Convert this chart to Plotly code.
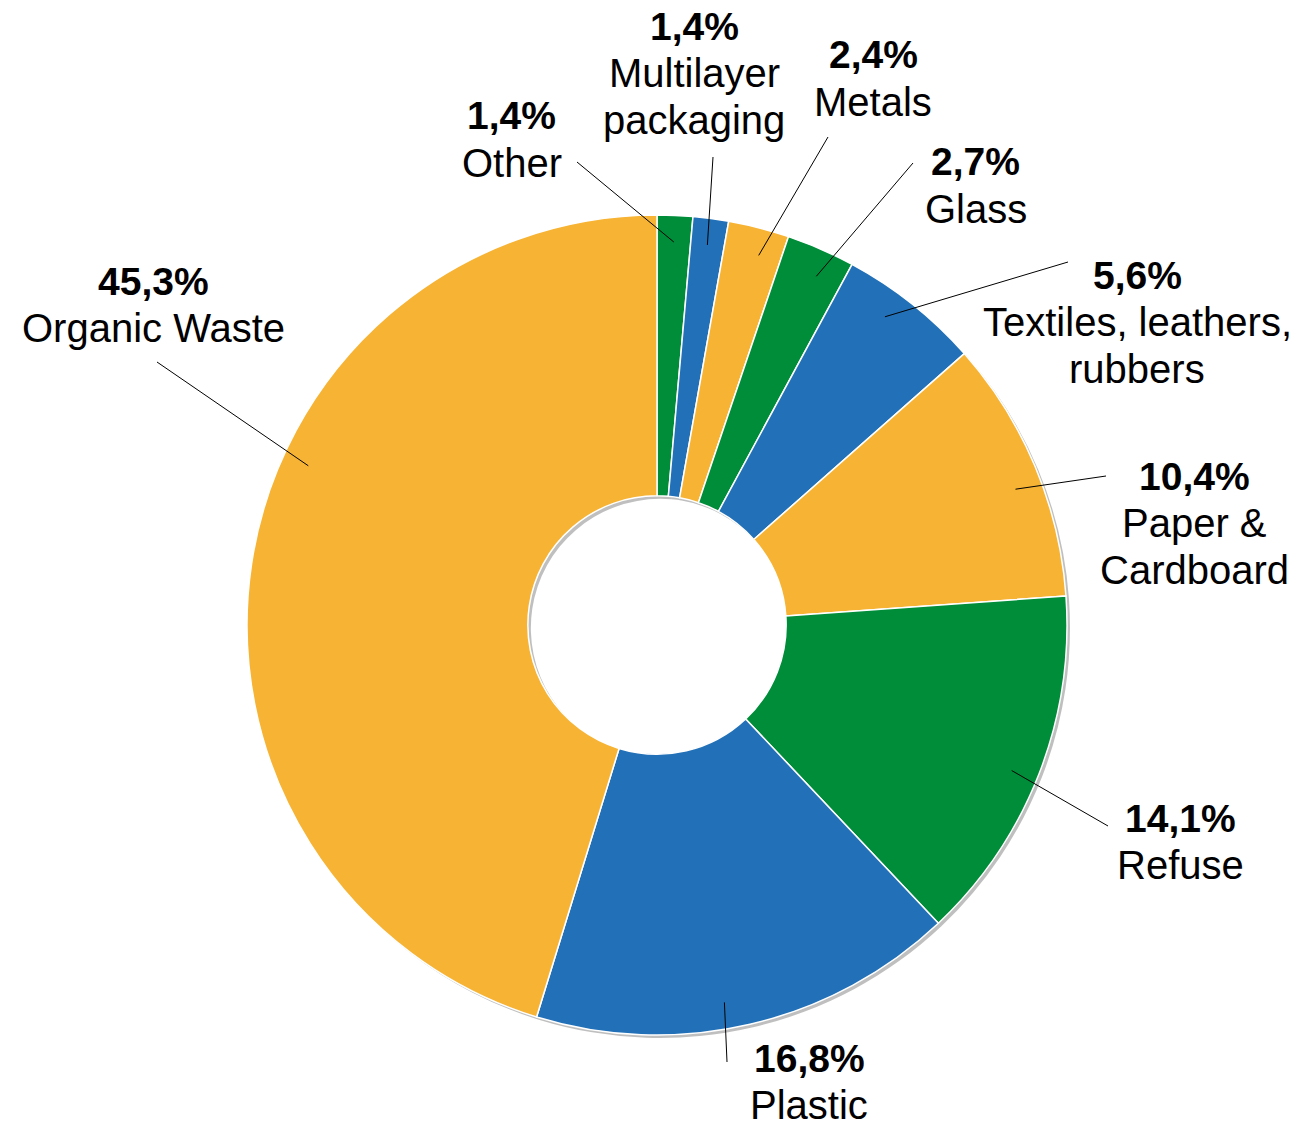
import math
import plotly.graph_objects as go

# ---- data ----
categories = ["Other", "Multilayer packaging", "Metals", "Glass",
              "Textiles, leathers, rubbers", "Paper & Cardboard",
              "Refuse", "Plastic", "Organic Waste"]
label_lines = [["Other"], ["Multilayer", "packaging"], ["Metals"], ["Glass"],
               ["Textiles, leathers,", "rubbers"], ["Paper &", "Cardboard"],
               ["Refuse"], ["Plastic"], ["Organic Waste"]]
values = [1.4, 1.4, 2.4, 2.7, 5.6, 10.4, 14.1, 16.8, 45.3]
pct_labels = ["1,4%", "1,4%", "2,4%", "2,7%", "5,6%", "10,4%", "14,1%", "16,8%", "45,3%"]

ORANGE = "#F7B334"
GREEN = "#008D39"
BLUE = "#2271B8"
colors = [GREEN, BLUE, ORANGE, GREEN, BLUE, ORANGE, GREEN, BLUE, ORANGE]

# ---- layout / placement (pixels) ----
W, H = 1315, 1128
CX, CY, R = 657, 625, 410
HOLE = 0.315
FONT = "Liberation Sans, Helvetica Neue, Arial, sans-serif"
FSIZE_PCT = 39
FSIZE_NAME = 40
LINE_PITCH = 47
# label block: centre x and y of the first (percentage) line
label_pos = [(512, 116), (694, 26), (873, 55), (976, 162), (1137, 275),
             (1194, 476), (1180, 818), (809, 1058), (153, 281)]
line_outer = [(577, 162), (713, 157), (828, 137), (913, 163), (1068, 262),
              (1106, 476), (1108, 826), (727, 1062), (157, 362)]
angle_offset = [0, 0, 1, 1, -2, 2, 1, 3, 16]
inner_frac = 0.935


def px(x):
    return x / W


def py(y):
    return 1 - y / H


dom_x = [px(CX - R), px(CX + R)]
dom_y = [py(CY + R), py(CY - R)]

fig = go.Figure()

# soft shadow underneath
SH = 3
fig.add_trace(go.Pie(
    values=values, sort=False, direction="clockwise", hole=HOLE,
    marker=dict(colors=["rgba(0,0,0,0.25)"] * len(values), line=dict(width=0)),
    textinfo="none", hoverinfo="skip", showlegend=False,
    domain=dict(x=[px(CX - R + SH), px(CX + R + SH)], y=[py(CY + R + SH), py(CY - R + SH)]),
))

fig.add_trace(go.Pie(
    labels=categories, values=values,
    sort=False, direction="clockwise", hole=HOLE,
    marker=dict(colors=colors, line=dict(color="white", width=1.5)),
    textinfo="none", showlegend=False,
    domain=dict(x=dom_x, y=dom_y),
))


def add_line(x, yc, text, size):
    fig.add_annotation(
        x=px(x), y=py(yc), xref="paper", yref="paper",
        xanchor="center", yanchor="middle", showarrow=False,
        text=text, borderpad=0,
        font=dict(family=FONT, size=size, color="black"),
    )


total = sum(values)
cum = 0.0
for i, v in enumerate(values):
    mid = (cum + v / 2) / total * 360 + angle_offset[i]
    cum += v
    th = math.radians(mid)
    ix = CX + R * inner_frac * math.sin(th)
    iy = CY - R * inner_frac * math.cos(th)
    ox, oy = line_outer[i]
    fig.add_shape(type="line", xref="paper", yref="paper",
                  x0=px(ix), y0=py(iy), x1=px(ox), y1=py(oy),
                  line=dict(color="black", width=1))
    lx, ly = label_pos[i]
    add_line(lx, ly, f"<b>{pct_labels[i]}</b>", FSIZE_PCT)
    for k, line in enumerate(label_lines[i]):
        add_line(lx, ly + LINE_PITCH * (k + 1), line, FSIZE_NAME)

fig.update_layout(
    width=W, height=H,
    margin=dict(l=0, r=0, t=0, b=0),
    paper_bgcolor="white", plot_bgcolor="white",
)

fig.write_html("out.html", config={"displayModeBar": False},
               post_script="document.body.style.margin='0';")
